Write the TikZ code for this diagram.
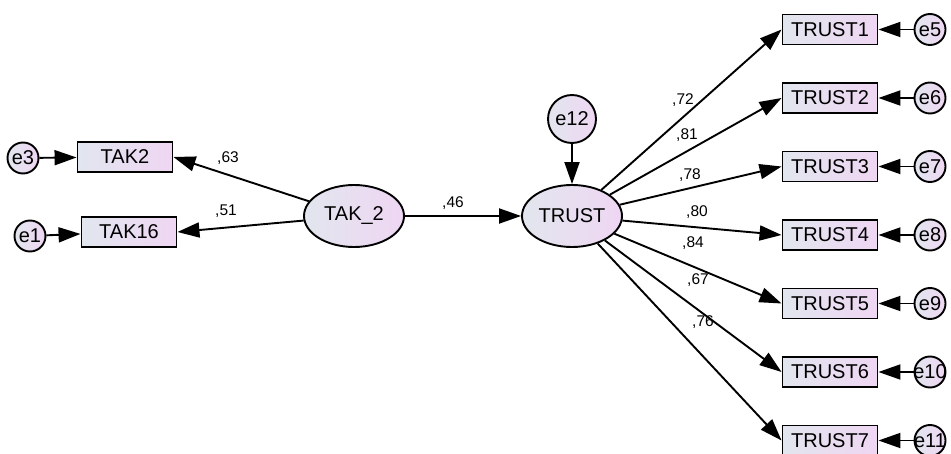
\documentclass[tikz,border=0pt]{standalone}
\usepackage{fontspec}
\setmainfont{Liberation Sans}
\usetikzlibrary{arrows.meta,shapes.geometric}

\definecolor{fillA}{HTML}{E2E6EE}
\definecolor{fillB}{HTML}{EFD6F3}

\tikzset{
  base/.style={draw=black, line width=1.9pt, left color=fillA, right color=fillB,
    inner sep=0pt, font=\fontsize{20}{22}\selectfont},
  obs/.style={base, rectangle, minimum width=95pt, minimum height=30pt},
  latent/.style={base, ellipse, minimum width=100pt, minimum height=62pt},
  err/.style={base, circle, minimum size=31pt},
  bigerr/.style={base, circle, minimum size=48pt},
  path/.style={line width=1.9pt, -{Triangle[length=22pt,width=15pt]}},
  coef/.style={font=\fontsize{15.5}{17}\selectfont, inner sep=0pt}
}

\begin{document}
\begin{tikzpicture}[x=1pt, y=-1pt]
  \path[use as bounding box] (0,0) rectangle (951,454);

  % latent factors
  \node[latent] (tak) at (354,216) {TAK\_2};
  \node[latent] (trust) at (572,216) {TRUST};
  \node[bigerr] (e12) at (572,119) {e12};

  % indicators of TAK_2
  \node[obs] (tak2) at (125,157) {TAK2};
  \node[obs] (tak16) at (129,232) {TAK16};
  \node[err] (e3) at (23,158) {\makebox[0pt]{e3}};
  \node[err] (e1) at (30,236) {\makebox[0pt]{e1}};

  % indicators of TRUST with their errors
  \foreach \i/\e in {1/5,2/6,3/7,4/8,5/9,6/10,7/11}{
    \node[obs] (t\i) at (830,{29.5+68.5*(\i-1)}) {TRUST\i};
    \node[err] (e\e) at (930,{29.5+68.5*(\i-1)}) {\makebox[0pt]{e\e}};
    \draw[path] (e\e) -- (t\i.east);
    \draw[path] (trust) -- (t\i.west);
  }

  % remaining paths
  \draw[path] (e3) -- (tak2);
  \draw[path] (e1) -- (tak16);
  \draw[path] (tak) -- (tak2.east);
  \draw[path] (tak) -- (tak16.east);
  \draw[path] (tak) -- (trust);
  \draw[path] (e12) -- (trust);

  % standardized coefficients
  \node[coef] (c63) at (228,158) {,63};
  \node[coef] (c51) at (226,211) {,51};
  \node[coef] (c46) at (453,203) {,46};
  \node[coef] (c72) at (683,100) {,72};
  \node[coef] (c81) at (687,135) {,81};
  \node[coef] (c78) at (690,175) {,78};
  \node[coef] (c80) at (697,212) {,80};
  \node[coef] (c84) at (693,243) {,84};
  \node[coef] (c67) at (698,280) {,67};
  \node[coef] (c76) at (703,322) {,76};
\end{tikzpicture}
\end{document}
